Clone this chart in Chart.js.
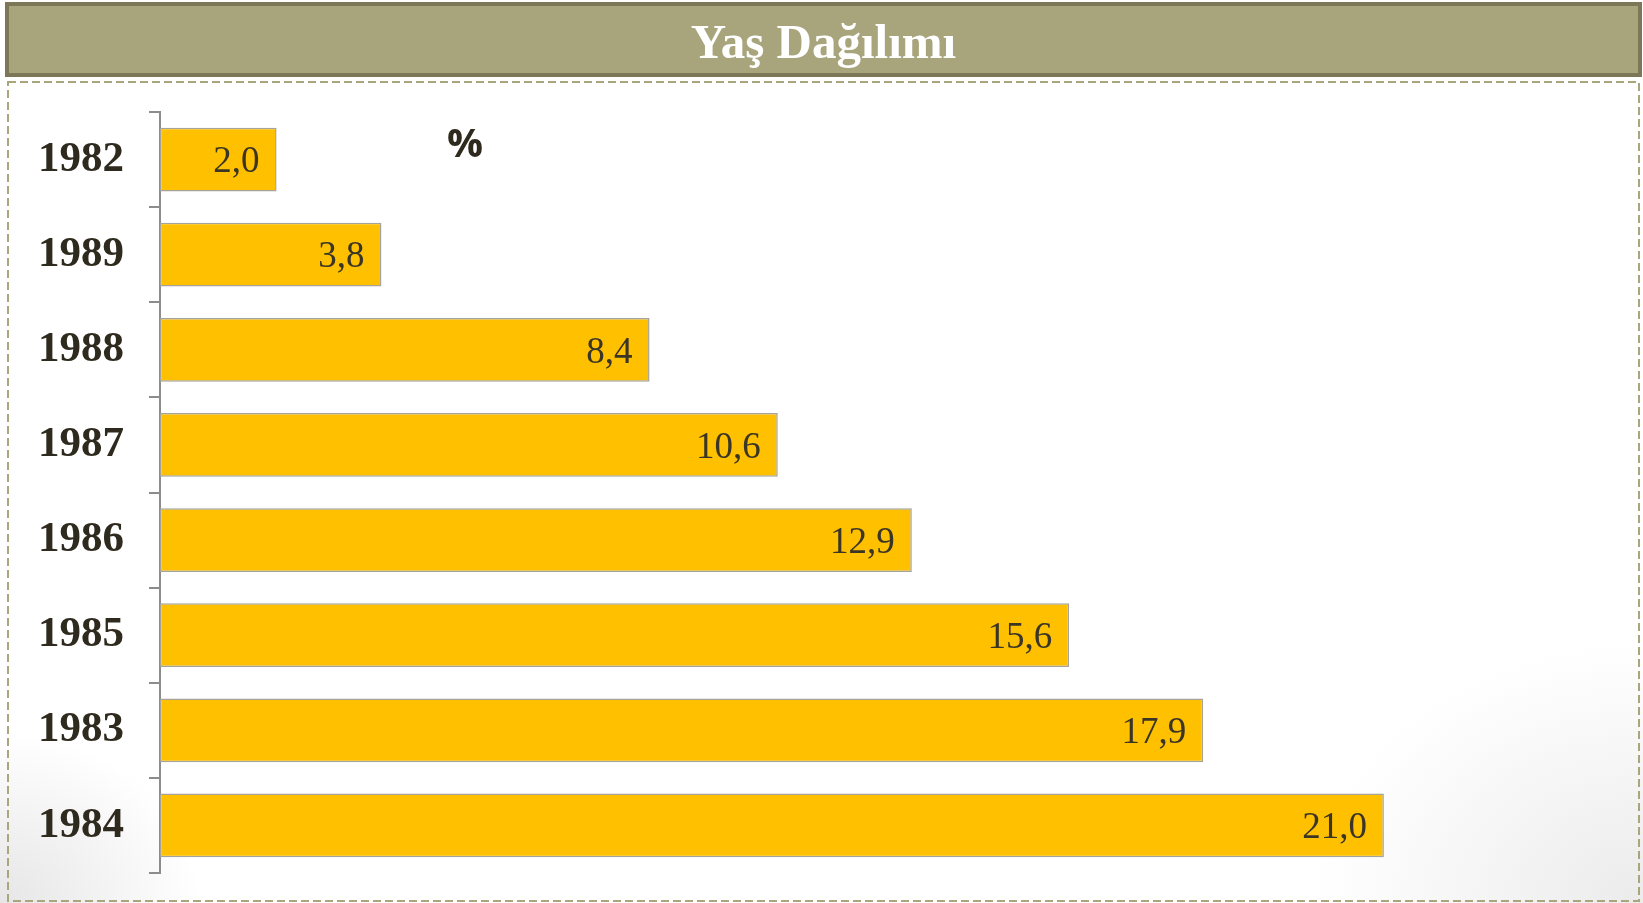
<!DOCTYPE html>
<html>
<head>
<meta charset="utf-8">
<script src="https://cdn.jsdelivr.net/npm/chart.js@4.4.1/dist/chart.umd.min.js"></script>
<style>
  html, body { margin: 0; padding: 0; background: #fff; }
  body { width: 1643px; height: 903px; position: relative; overflow: hidden; }
  #bg {
    position: absolute; left: 0; top: 0; width: 1643px; height: 903px;
    background:
      radial-gradient(ellipse 200px 170px at 0px 903px, #e6e6e6 0%, rgba(255,255,255,0) 100%),
      radial-gradient(ellipse 330px 260px at 1643px 903px, #ebebeb 0%, rgba(255,255,255,0) 100%),
      #fff;
  }
  #title {
    position: absolute; left: 5px; top: 2px; width: 1629px; height: 67px;
    border: 4px solid #7b7757; background: #a8a57c;
    color: #fff; font: bold 49px "Liberation Serif", serif;
    text-align: center; line-height: 72px;
  }
  #pct {
    position: absolute; left: 447px; top: 114px;
    font: bold 40px "Open Sans", sans-serif; color: #2f2a1e;
  }
  canvas { position: absolute; left: 0; top: 0; }
</style>
</head>
<body>
<div id="bg"></div>
<canvas id="chart" width="1643" height="903"></canvas>
<div id="title">Yaş Dağılımı</div>
<div id="pct">%</div>
<script>
var years = ["1982", "1989", "1988", "1987", "1986", "1985", "1983", "1984"];
var shares = [2.0, 3.8, 8.4, 10.6, 12.9, 15.6, 17.9, 21.0];

// dashed frame around the chart and the value labels inside the bars
var decor = {
    id: "decor",
    beforeDraw: function (chart) {
        var ctx = chart.ctx;
        ctx.save();
        ctx.strokeStyle = "#a9a57c";
        ctx.lineWidth = 2;
        ctx.setLineDash([8, 4]);
        ctx.strokeRect(8, 82, 1631, 819);
        ctx.restore();
    },
    afterDatasetsDraw: function (chart) {
        var ctx = chart.ctx;
        var meta = chart.getDatasetMeta(0);
        ctx.save();
        ctx.font = "37px 'Liberation Serif', serif";
        ctx.fillStyle = "#3b3526";
        ctx.textAlign = "right";
        ctx.textBaseline = "middle";
        meta.data.forEach(function (bar, i) {
            ctx.fillText(shares[i].toFixed(1).replace(".", ","), bar.x - 17, bar.y + 3);
        });
        ctx.restore();
    },
};

new Chart(document.getElementById("chart"), {
    type: "bar",
    data: {
        labels: years,
        datasets: [{
            data: shares,
            backgroundColor: "#ffc000",
            borderColor: "#a6a39a",
            borderWidth: 1.5,
            borderSkipped: false,
            barPercentage: 0.67,
            categoryPercentage: 1,
        }],
    },
    options: {
        indexAxis: "y",
        responsive: false,
        animation: false,
        layout: { padding: { top: 112, bottom: 30, right: 26, left: 0 } },
        scales: {
            x: { display: false, min: 0, max: 25 },
            y: {
                afterFit: function (s) {
                    s.width = 160;
                    s.paddingTop = 0;
                    s.paddingBottom = 0;
                },
                border: { color: "#8c8c8c", width: 2 },
                grid: {
                    drawOnChartArea: false,
                    drawTicks: true,
                    tickLength: 11,
                    color: "#8c8c8c",
                    lineWidth: 2,
                    offset: true,
                },
                ticks: {
                    padding: 25,
                    color: "#2f2a1e",
                    font: { family: "'Liberation Serif', serif", size: 43, weight: "bold" },
                },
            },
        },
        plugins: {
            legend: { display: false },
            tooltip: { enabled: false },
        },
    },
    plugins: [decor],
});
</script>
</body>
</html>
